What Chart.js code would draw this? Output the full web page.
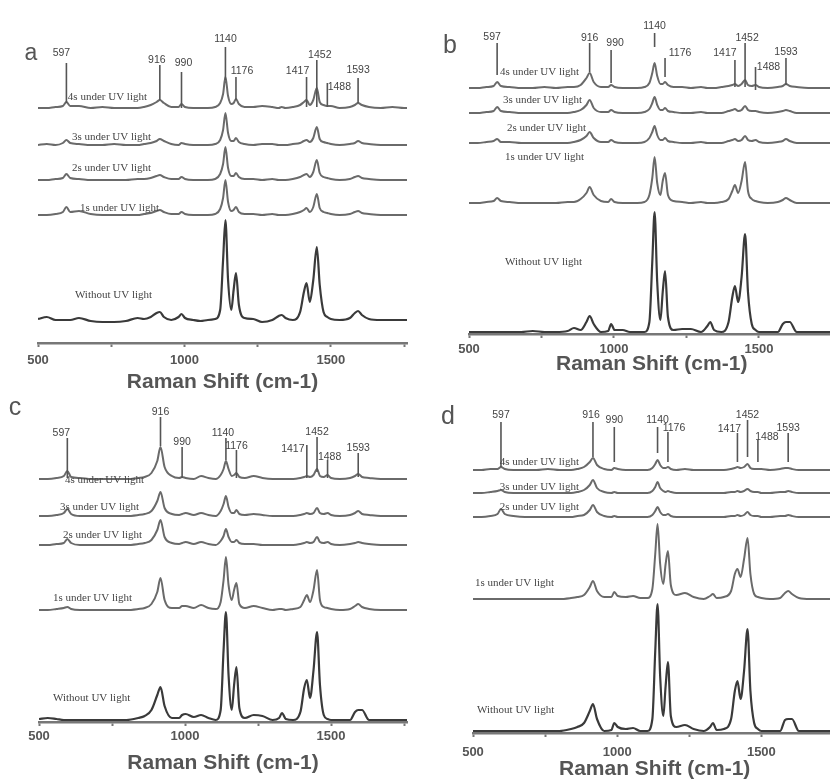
<!DOCTYPE html>
<html>
<head>
<meta charset="utf-8">
<script src="https://cdn.jsdelivr.net/npm/chart.js@4.4.1/dist/chart.umd.min.js"></script>
<style>
html,body{margin:0;padding:0;background:#fff;width:830px;height:781px;overflow:hidden;position:relative}
canvas{position:absolute;display:block}
</style>
</head>
<body>
<canvas id="pa"></canvas>
<canvas id="pb"></canvas>
<canvas id="pc"></canvas>
<canvas id="pd"></canvas>
<script>
// ---------------- DATA ----------------
// Raman shift sampling points (cm-1)
const shifts = [500,530,560,585,597,610,640,680,720,760,
  800,840,862,885,905,916,930,955,980,990,
  1002,1030,1055,1080,1105,1122,1132,1140,1149,1160,
  1168,1176,1186,1205,1235,1265,1300,1322,1332,1345,
  1370,1395,1408,1417,1428,1440,1452,1462,1475,1488,
  1500,1530,1565,1582,1593,1606,1630,1670,1710,1750,1770];
const peakShifts = [597,916,990,1140,1176,1417,1452,1488,1593];
const traceNames = ["4s under UV light","3s under UV light","2s under UV light","1s under UV light","Without UV light"];
const xTickValues = [500,750,1000,1250,1500,1750];
const axisTitle = "Raman Shift (cm-1)";

// stacking offsets of the traces (4s, 3s, 2s, 1s, without)
const aOffsets = [235,198,163,128,23];
const bOffsets = [246,221,191,131,2];
const cOffsets = [243,206,177,112,2];
const dOffsets = [263,240,216,134,2];

// panel a intensities (above each trace baseline)
const a4s = [0,0,1,2,6,2,2,0,1,0, 0,0,1,3,6,8,5,1,1,4, 1,0,0,0,1,5,14,31,12,4, 5,9,4,1,1,2,1,0,1,0, 1,3,6,8,3,8,20,6,3,2, 2,0,1,3,5,3,1,0,1,0,0];
const a3s = [0,1,0,2,5,2,1,0,0,1, 0,0,1,2,4,6,4,1,0,2, 1,0,0,0,1,5,15,32,12,4, 4,7,3,1,0,1,1,0,0,0, 1,2,4,5,3,7,18,6,3,2, 1,0,1,2,4,2,1,0,0,0,0];
const a2s = [0,0,1,2,6,2,1,0,0,0, 0,1,1,2,4,5,3,1,1,3, 1,0,0,0,1,6,16,33,12,4, 4,7,3,1,1,0,1,0,0,0, 1,3,5,6,3,8,20,7,3,2, 1,0,1,3,4,2,1,0,0,0,0];
const a1s = [0,0,1,3,8,3,4,1,0,0, 0,0,1,2,4,5,3,1,1,3, 1,0,0,0,1,6,17,35,13,4, 5,8,3,1,1,0,1,0,0,0, 1,3,5,7,3,8,21,7,3,2, 1,0,1,3,4,2,1,0,0,0,0];
const aWo = [1,3,0,0,0,0,2,-1,-2,-2, -1,2,1,3,7,8,3,0,3,6, 2,0,-1,0,1,10,60,100,40,10, 30,47,15,2,1,-2,0,4,5,2, 0,8,28,37,18,40,73,35,8,3, 1,0,2,7,9,5,1,0,0,0,0];

// panel b
const b4s = [0,0,1,2,6,2,1,0,0,1, 0,1,1,3,10,15,6,1,1,3, 1,0,0,0,1,5,15,25,12,4, 4,6,3,1,1,0,1,0,0,0, 1,2,3,4,2,4,8,3,2,3, 1,0,1,2,4,2,1,0,0,0,0];
const b3s = [0,0,1,2,6,2,1,0,0,0, 0,0,1,3,8,13,5,1,1,3, 1,0,0,0,1,4,10,16,8,3, 3,5,2,1,0,0,1,0,0,0, 0,2,3,4,2,3,7,3,2,2, 1,0,1,2,3,2,0,0,0,0,0];
const b2s = [0,0,1,2,4,1,1,0,0,0, 0,0,1,3,7,11,5,1,1,3, 1,0,0,0,1,5,11,17,8,3, 3,5,2,1,0,0,1,0,0,0, 0,2,3,4,2,3,7,3,2,3, 1,0,1,2,4,2,0,0,0,0,0];
const b1s = [0,0,1,2,5,2,1,0,0,0, 0,1,1,4,10,16,8,2,1,4, 1,0,0,0,1,8,25,46,20,8, 22,30,8,2,1,0,1,0,0,0, 1,4,12,18,10,22,41,12,4,2, 1,0,1,3,5,3,0,0,0,0,0];
const bWo = [0,0,0,0,0,0,0,0,1,0, 0,1,4,2,10,16,8,0,1,8, 2,2,0,0,0,10,70,120,50,12, 40,61,15,2,3,3,0,6,10,2, 0,10,35,46,30,55,98,40,8,2, 0,0,0,8,10,10,0,0,0,0,0];

// panel c
const c4s = [0,0,1,3,8,2,1,0,0,0, 0,1,2,6,18,32,12,3,1,2, 1,0,3,1,0,4,10,18,10,3, 4,6,2,1,3,1,0,0,0,0, 0,1,2,3,2,4,10,3,2,4, 1,0,1,3,5,2,1,0,0,0,0];
const c3s = [0,0,1,3,7,2,0,0,0,0, 0,1,2,5,15,24,8,2,1,2, 3,1,3,1,0,5,12,20,9,3, 3,6,2,1,2,1,0,0,0,0, 0,1,2,3,2,3,8,3,2,3, 1,0,1,3,5,2,1,0,0,0,0];
const c2s = [0,0,1,2,6,2,0,0,0,0, 0,1,2,5,15,25,8,2,1,2, 3,1,3,1,0,4,9,16,8,3, 3,5,2,1,1,0,0,0,0,0, 0,1,2,3,2,3,8,3,2,3, 1,0,1,2,3,2,1,0,0,0,0];
const c1s = [0,0,1,2,3,1,0,0,0,0, 0,1,2,6,18,32,10,2,2,4, 4,2,5,2,1,8,30,53,25,10, 20,27,6,2,4,2,0,1,1,0, 1,3,10,15,8,20,40,10,3,2, 1,0,1,4,6,3,1,0,0,0,0];
const cWo = [1,2,1,0,0,0,0,0,0,0, 0,2,4,10,25,33,14,2,2,5, 6,3,5,2,0,10,70,108,45,10, 35,53,12,2,5,4,0,2,7,1, 0,8,32,40,22,50,88,35,5,1, 0,0,0,8,10,10,0,0,0,0,0];

// panel d
const d4s = [0,0,1,1,3,1,0,0,0,1, 0,0,1,3,8,12,5,1,0,2, 1,0,0,0,0,2,6,10,5,2, 2,3,1,0,1,0,0,0,0,0, 0,1,2,3,2,3,6,2,1,1, 1,0,1,2,2,1,0,0,0,0,0];
const d3s = [0,0,1,2,3,1,0,0,0,0, 0,0,1,3,8,13,5,1,0,1, 0,0,0,0,0,2,6,11,5,2, 1,2,1,0,0,0,0,0,0,0, 0,1,1,2,1,2,4,2,1,1, 0,0,1,1,2,1,0,0,0,0,0];
const d2s = [0,0,1,3,8,3,1,0,0,0, 0,0,1,2,7,12,5,1,0,1, 0,0,0,0,0,2,6,10,5,2, 2,3,1,0,0,0,0,0,0,0, 0,1,1,2,1,2,5,2,1,1, 0,0,1,1,2,1,0,0,0,0,0];
const d1s = [0,0,0,0,0,0,0,0,0,0, 0,1,2,4,12,18,8,2,2,7, 3,2,3,1,1,10,45,75,35,15, 35,48,14,4,6,2,0,3,5,1, 2,8,25,30,22,40,61,25,5,2, 1,0,1,6,8,5,1,0,0,0,0];
const dWo = [0,0,0,0,0,0,0,0,0,0, 0,2,4,8,20,27,12,0,1,8, 4,2,3,0,0,12,80,127,55,15, 45,69,15,4,6,2,0,4,8,1, 2,12,40,50,32,60,102,40,8,2, 0,0,0,11,12,12,0,0,0,0,0];

// ---------------- MARKER GEOMETRY (chart y units) ----------------
const aMarkTop = [280,278,271,296,266,266,283,260,265];
const aMarkBottom = [240,243,235,263,243,236,236,236,240];
const aLabelY = [290,283,280,304,272,272,288,256,273];
const aLabelDx = [-5,-3,2,0,6,-9,3,12,0];
const bMarkTop = [291,291,284,301,276,274,291,267,276];
const bMarkBottom = [259,262,251,287,257,247,247,244,249];
const bLabelY = [297,296,291,308,281,281,296,267,282];
const bLabelDx = [-5,0,4,0,15,-10,2,13,0];
const cMarkTop = [284,305,275,284,272,277,285,262,269];
const cMarkBottom = [244,276,244,262,244,244,250,244,245];
const cLabelY = [289,310,280,289,276,273,290,265,274];
const cLabelDx = [-6,0,0,-3,0,-14,0,2,0];
const dMarkTop = [311,311,306,306,301,300,313,293,300];
const dMarkBottom = [266,276,271,280,271,271,276,271,271];
const dLabelY = [318,318,313,313,305,304,318,296,305];
const dLabelDx = [0,-2,0,0,6,-8,0,9,0];

// trace label anchors (x in cm-1, y in chart units)
const aNameX = [602,616,616,643,626], aNameY = [246,206,175,135,48];
const bNameX = [607,617,631,624,624], bNameY = [262,234,206,177,72];
const cNameX = [589,572,582,548,548], cNameY = [242,215,187,124,24];
const dNameX = [593,593,593,507,514], dNameY = [271,246,226,150,23];

// ---------------- PANELS ----------------
const panels = [
  {id:'pa', letter:'a', left:0, top:0, width:415, areaH:343, padL:38, padR:8, xMax:1760, tickPad:7, titlePad:-2.5,
   letterX:31, letterY:54, letterSize:23,
   offsets:aOffsets, traces:[a4s,a3s,a2s,a1s,aWo],
   markTop:aMarkTop, markBottom:aMarkBottom, labelY:aLabelY, labelDx:aLabelDx, nameX:aNameX, nameY:aNameY},
  {id:'pb', letter:'b', left:415, top:0, width:425, areaH:334, padL:54, padR:5.6, xMax:1760, tickPad:5, titlePad:-7,
   letterX:35, letterY:46, letterSize:25,
   offsets:bOffsets, traces:[b4s,b3s,b2s,b1s,bWo],
   markTop:bMarkTop, markBottom:bMarkBottom, labelY:bLabelY, labelDx:bLabelDx, nameX:bNameX, nameY:bNameY},
  {id:'pc', letter:'c', left:0, top:390, width:415, areaH:332, padL:39, padR:8, xMax:1760, tickPad:3.5, titlePad:6.5,
   letterX:15, letterY:18, letterSize:25,
   offsets:cOffsets, traces:[c4s,c3s,c2s,c1s,cWo],
   markTop:cMarkTop, markBottom:cMarkBottom, labelY:cLabelY, labelDx:cLabelDx, nameX:cNameX, nameY:cNameY},
  {id:'pd', letter:'d', left:415, top:390, width:427, areaH:343, padL:58, padR:5, xMax:1760, tickPad:8.5, titlePad:-8.5,
   letterX:33, letterY:27, letterSize:25,
   offsets:dOffsets, traces:[d4s,d3s,d2s,d1s,dWo],
   markTop:dMarkTop, markBottom:dMarkBottom, labelY:dLabelY, labelDx:dLabelDx, nameX:dNameX, nameY:dNameY}
];

const TICK_LEN = 4, TICK_FONT = 13, TITLE_FONT = 21;

function annoPlugin(p) {
  return {
    id: 'anno_' + p.id,
    afterDatasetsDraw(chart) {
      const ctx = chart.ctx, x = chart.scales.x, y = chart.scales.y;
      ctx.save();
      ctx.strokeStyle = '#555';
      ctx.lineWidth = 1.6;
      ctx.fillStyle = '#444';
      ctx.font = '10.5px "Liberation Sans", Arial, sans-serif';
      ctx.textAlign = 'center';
      ctx.textBaseline = 'middle';
      peakShifts.forEach((s, i) => {
        const px = x.getPixelForValue(s);
        ctx.beginPath();
        ctx.moveTo(px, y.getPixelForValue(p.markTop[i]));
        ctx.lineTo(px, y.getPixelForValue(p.markBottom[i]));
        ctx.stroke();
        ctx.fillText(String(s), px + p.labelDx[i], y.getPixelForValue(p.labelY[i]));
      });
      ctx.font = '11px "Liberation Serif", "Times New Roman", serif';
      ctx.fillStyle = '#444';
      ctx.textAlign = 'left';
      traceNames.forEach((n, i) => {
        ctx.fillText(n, x.getPixelForValue(p.nameX[i]), y.getPixelForValue(p.nameY[i]));
      });
      ctx.font = p.letterSize + 'px "Liberation Sans", Arial, sans-serif';
      ctx.fillStyle = '#555';
      ctx.textAlign = 'center';
      ctx.fillText(p.letter, p.letterX, p.letterY);
      ctx.restore();
    }
  };
}

panels.forEach(p => {
  // Chart.js reserves the tick padding twice in the axis block
  const axisBlock = TICK_LEN + 2 * p.tickPad + TICK_FONT + p.titlePad + TITLE_FONT;
  const H = Math.ceil(p.areaH + axisBlock);
  const padB = H - p.areaH - axisBlock;
  const cv = document.getElementById(p.id);
  cv.width = p.width; cv.height = H;
  cv.style.left = p.left + 'px'; cv.style.top = p.top + 'px';
  cv.style.width = p.width + 'px'; cv.style.height = H + 'px';

  const datasets = p.traces.map((vals, i) => ({
    label: traceNames[i],
    data: shifts.map((s, k) => ({x: s, y: p.offsets[i] + vals[k]})),
    borderColor: i === 4 ? '#3a3a3a' : '#6a6a6a',
    borderWidth: i === 4 ? 2.2 : 2,
    pointRadius: 0,
    fill: false,
    cubicInterpolationMode: 'monotone'
  }));

  new Chart(cv, {
    type: 'line',
    data: { datasets },
    options: {
      responsive: false,
      animation: false,
      devicePixelRatio: 1,
      layout: { padding: { left: p.padL, right: p.padR, top: 0, bottom: padB } },
      plugins: { legend: { display: false }, tooltip: { enabled: false }, title: { display: false } },
      scales: {
        x: {
          type: 'linear',
          min: 500, max: p.xMax,
          afterBuildTicks: (axis) => { axis.ticks = xTickValues.map(v => ({ value: v })); },
          ticks: {
            autoSkip: false, maxRotation: 0, padding: p.tickPad,
            color: '#555',
            font: { family: '"Liberation Sans", Arial, sans-serif', size: TICK_FONT, weight: 'bold', lineHeight: 1 },
            callback: (v) => (v % 500 === 0 ? String(v) : '')
          },
          grid: { display: true, drawOnChartArea: false, drawTicks: true, tickLength: TICK_LEN, color: '#777', tickWidth: 2 },
          border: { display: true, color: '#777', width: 2.5 },
          title: {
            display: true, text: axisTitle, color: '#555',
            font: { family: '"Liberation Sans", Arial, sans-serif', size: TITLE_FONT, weight: 'bold', lineHeight: 1 },
            padding: { top: p.titlePad, bottom: 0 }
          }
        },
        y: { display: false, min: 0, max: p.areaH }
      }
    },
    plugins: [annoPlugin(p)]
  });
});
</script>
</body>
</html>
